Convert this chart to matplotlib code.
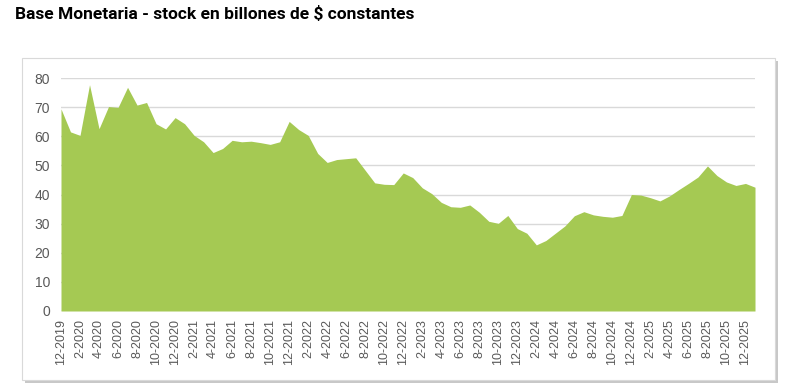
import matplotlib
matplotlib.use("Agg")
import matplotlib.pyplot as plt
from matplotlib.patches import Rectangle

# Monthly data: 12-2019 .. 1-2026
months = []
m, y = 12, 2019
for _ in range(74):
    months.append(f"{m}-{y}")
    m += 1
    if m > 12:
        m, y = 1, y + 1

values = [69.4, 61.5, 60.3, 77.7, 62.6, 70.2, 69.9, 76.8, 70.7, 71.6,
          64.3, 62.5, 66.4, 64.3, 60.3, 58.1, 54.4, 55.8, 58.6, 58.1,
          58.3, 57.8, 57.2, 58.1, 65.1, 62.3, 60.3, 54.1, 51.0, 52.0,
          52.3, 52.6, 48.3, 44.0, 43.5, 43.4, 47.4, 45.8, 42.3, 40.3,
          37.3, 35.8, 35.6, 36.4, 33.9, 30.8, 30.1, 32.8, 28.3, 26.7,
          22.7, 24.2, 26.7, 29.2, 32.7, 34.1, 33.0, 32.5, 32.2, 32.8,
          40.0, 39.8, 38.9, 37.8, 39.5, 41.7, 43.8, 46.0, 49.8, 46.5,
          44.3, 43.1, 43.8, 42.5]

yticks = [0, 10, 20, 30, 40, 50, 60, 70, 80]
title = "Base Monetaria - stock en billones de $ constantes"

fig = plt.figure(figsize=(7.98, 3.91), dpi=100)
fig.patch.set_facecolor("white")

# chart frame with shadow
bx0, by0, bw, bh = 22 / 798, 1 - 380 / 391, (775 - 22) / 798, (380 - 58) / 391
fig.patches.append(Rectangle((bx0 + 0.004, by0 - 0.008), bw, bh, transform=fig.transFigure,
                             facecolor="#C8C8C8", edgecolor="none", zorder=-3))
fig.patches.append(Rectangle((bx0, by0), bw, bh, transform=fig.transFigure,
                             facecolor="white", edgecolor="#D9D9D9", linewidth=0.8, zorder=-2))

ax = fig.add_axes([61 / 798, 1 - 311 / 391, (755 - 61) / 798, (311 - 78) / 391])
ax.set_facecolor("none")
ax.set_zorder(1)
x = list(range(len(values)))
ax.fill_between(x, values, 0, color="#A5C953", linewidth=0, zorder=2)
ax.set_xlim(0, len(values) - 1)
ax.set_ylim(0, 80)
ax.set_yticks(yticks)
ax.set_yticklabels([str(v) for v in yticks], fontsize=10, color="#595959",
                   family="Liberation Sans")
ax.yaxis.grid(True, color="#D9D9D9", linewidth=1.0, zorder=1)
ax.set_axisbelow(True)
ax.set_xticks(x[::2])
ax.set_xticklabels(months[::2], rotation=90, fontsize=9, color="#595959",
                   family="Liberation Sans")
for s in ax.spines.values():
    s.set_visible(False)
ax.tick_params(axis="both", length=0)
ax.tick_params(axis="y", pad=8)
ax.tick_params(axis="x", pad=6)

fig.text(15 / 798, 1 - 14 / 391, title, fontsize=12.5, fontweight="bold",
         family="Roboto", va="center", ha="left", color="black")

fig.savefig("out.png", dpi=100)
